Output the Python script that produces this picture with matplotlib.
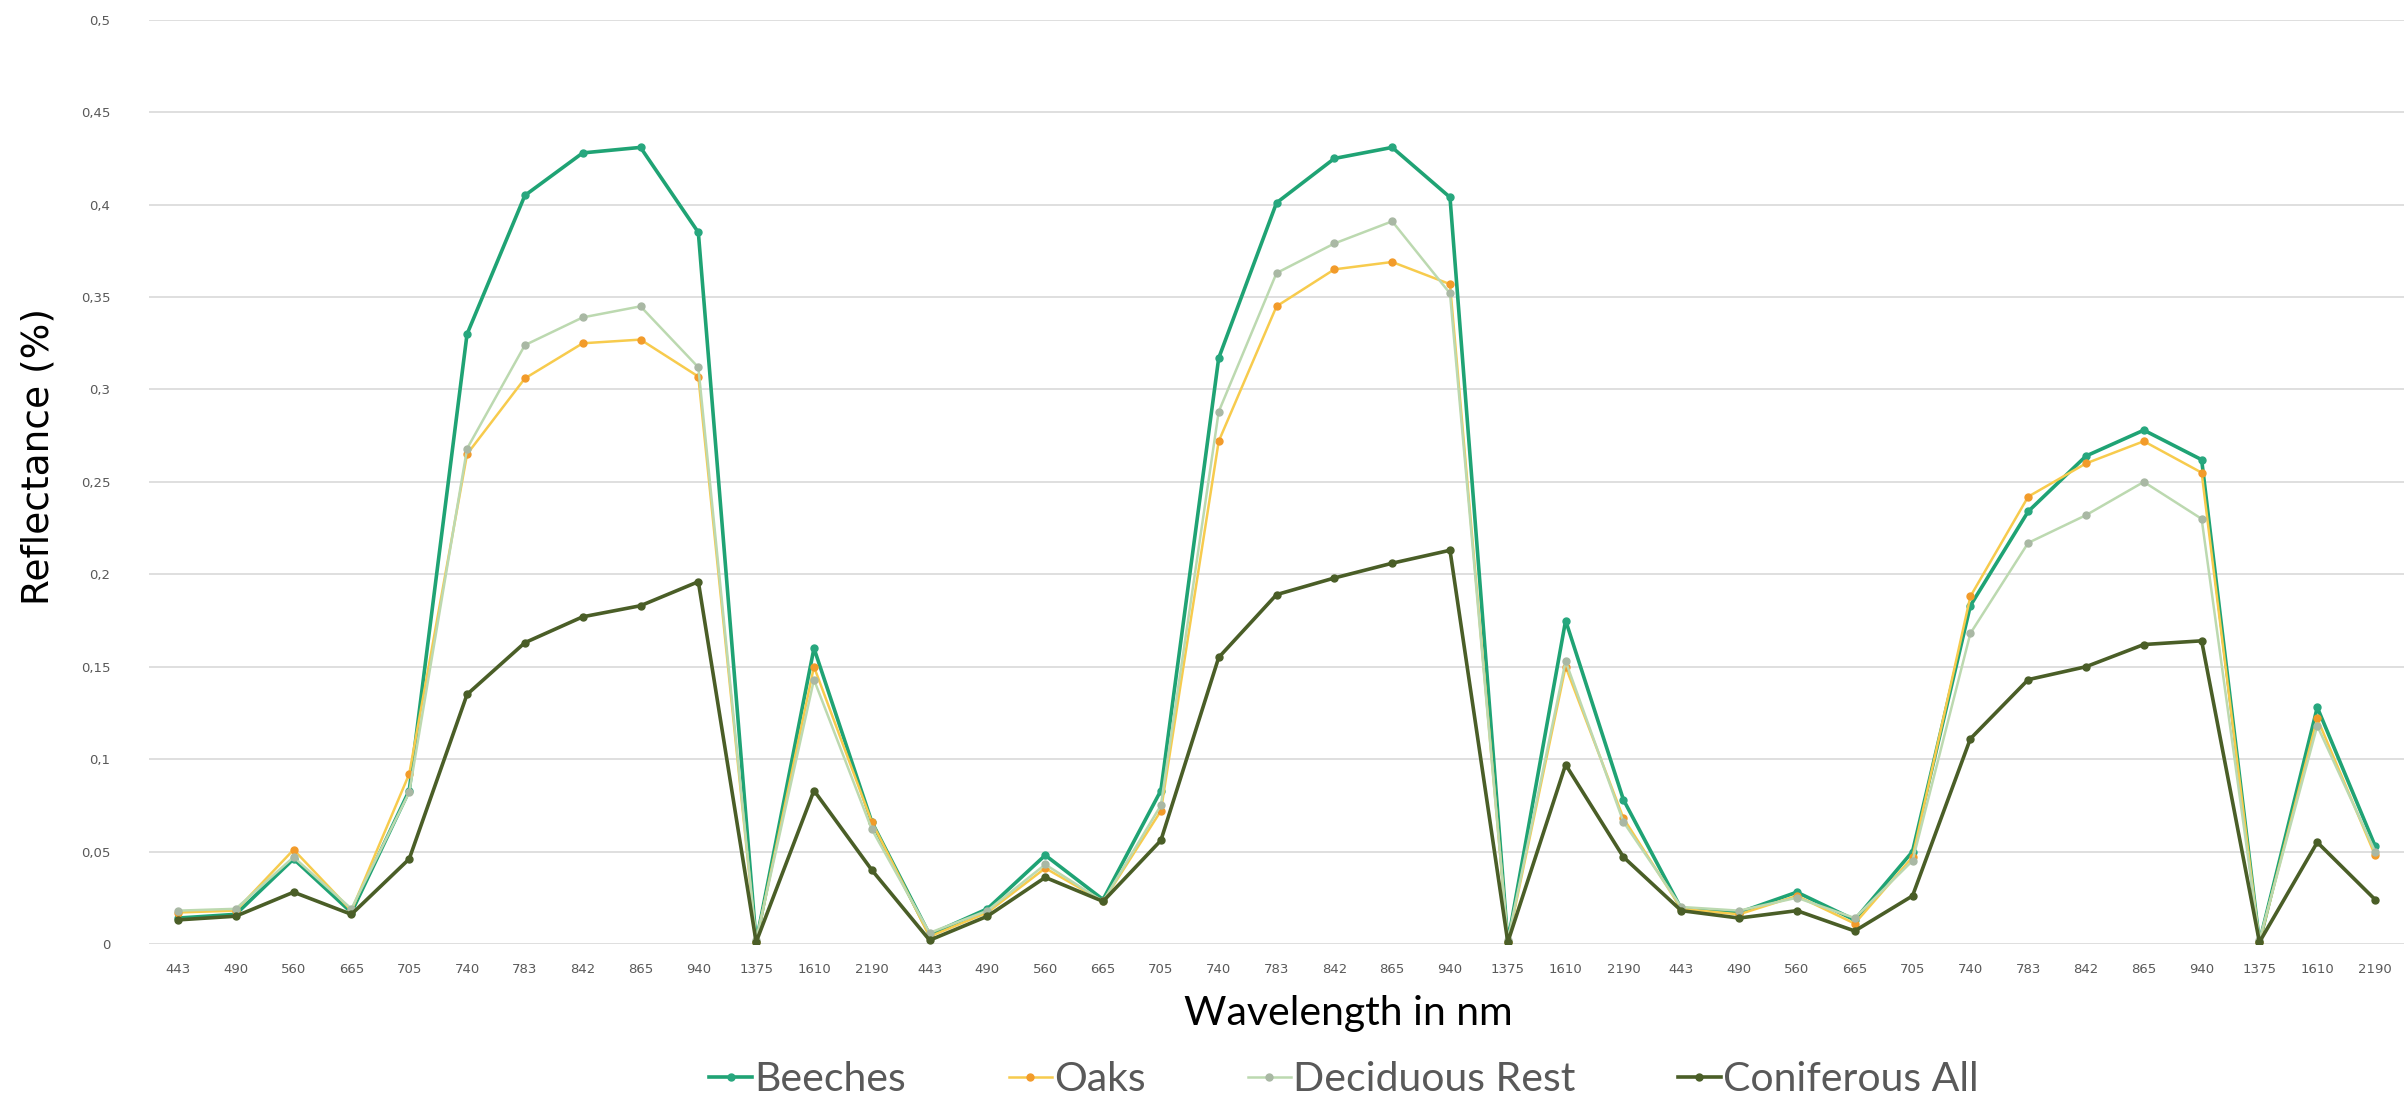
import matplotlib
matplotlib.use("Agg")
import matplotlib.pyplot as plt
from matplotlib.ticker import FuncFormatter

bands = ["443", "490", "560", "665", "705", "740", "783", "842", "865",
         "940", "1375", "1610", "2190"]
wavelengths = bands * 3

beeches = [0.014, 0.016, 0.046, 0.017, 0.083, 0.330, 0.405, 0.428, 0.431, 0.385, 0.001, 0.160, 0.066,
           0.005, 0.019, 0.048, 0.024, 0.083, 0.317, 0.401, 0.425, 0.431, 0.404, 0.001, 0.175, 0.078,
           0.019, 0.017, 0.028, 0.013, 0.050, 0.183, 0.234, 0.264, 0.278, 0.262, 0.001, 0.128, 0.053]
oaks = [0.017, 0.018, 0.051, 0.018, 0.092, 0.265, 0.306, 0.325, 0.327, 0.307, 0.001, 0.150, 0.066,
        0.004, 0.017, 0.041, 0.023, 0.072, 0.272, 0.345, 0.365, 0.369, 0.357, 0.001, 0.150, 0.068,
        0.019, 0.016, 0.026, 0.011, 0.047, 0.188, 0.242, 0.260, 0.272, 0.255, 0.001, 0.122, 0.048]
deciduous_rest = [0.018, 0.019, 0.047, 0.019, 0.082, 0.268, 0.324, 0.339, 0.345, 0.312, 0.002, 0.143, 0.062,
                  0.006, 0.018, 0.043, 0.023, 0.075, 0.288, 0.363, 0.379, 0.391, 0.352, 0.002, 0.153, 0.066,
                  0.020, 0.018, 0.025, 0.014, 0.045, 0.168, 0.217, 0.232, 0.250, 0.230, 0.002, 0.118, 0.050]
coniferous_all = [0.013, 0.015, 0.028, 0.016, 0.046, 0.135, 0.163, 0.177, 0.183, 0.196, 0.001, 0.083, 0.040,
                  0.002, 0.015, 0.036, 0.023, 0.056, 0.155, 0.189, 0.198, 0.206, 0.213, 0.001, 0.097, 0.047,
                  0.018, 0.014, 0.018, 0.007, 0.026, 0.111, 0.143, 0.150, 0.162, 0.164, 0.001, 0.055, 0.024]

# (label, values, line colour, marker colour, line width)
series = [
    ("Beeches", beeches, "#1FA374", "#27A77E", 2.6),
    ("Oaks", oaks, "#F7CB4D", "#F29B2A", 1.8),
    ("Deciduous Rest", deciduous_rest, "#BCD9B0", "#A9B8A4", 1.8),
    ("Coniferous All", coniferous_all, "#4A5E27", "#4A5E27", 2.6),
]

fig = plt.figure(figsize=(24.04, 11.04), dpi=100)
ax = fig.add_axes([0.062, 0.145, 0.938, 0.837])

x = list(range(len(wavelengths)))
for label, vals, lc, mc, lw in series:
    ax.plot(x, vals, color=lc, lw=lw, marker="o", ms=5,
            mfc=mc, mec=mc, label=label, zorder=3)

ax.set_xlim(-0.5, len(wavelengths) - 0.5)
ax.set_ylim(0, 0.5)
ax.set_yticks([i * 0.05 for i in range(11)])
ax.yaxis.set_major_formatter(FuncFormatter(
    lambda v, _: "0" if abs(v) < 1e-9 else f"{v:.2f}".rstrip("0").replace(".", ",")))
ax.set_xticks(x)
ax.set_xticklabels(wavelengths)
ax.tick_params(length=0, colors="#595959", labelsize=9.5, pad=14)
ax.tick_params(axis="y", pad=28)
ax.grid(axis="y", color="#D9D9D9", lw=1.2)
ax.set_axisbelow(True)
for s in ax.spines.values():
    s.set_visible(False)

ax.set_ylabel("Reflectance (%)", fontsize=27, family="DejaVu Sans")
ax.yaxis.set_label_coords(-0.041, 0.527)

fig.text(0.561, 0.082, "Wavelength in nm", fontsize=29.5, family="Lato",
         ha="center", va="center", color="black")

leg = fig.legend(loc="center", bbox_to_anchor=(0.559, 0.022), ncol=4,
                 frameon=False, prop={"family": "Lato", "size": 29.5},
                 handlelength=1.05, handletextpad=0.05, columnspacing=2.5,
                 borderpad=0, borderaxespad=0)
for t in leg.get_texts():
    t.set_color("#595959")

fig.savefig("out.png", dpi=100, facecolor="white")
